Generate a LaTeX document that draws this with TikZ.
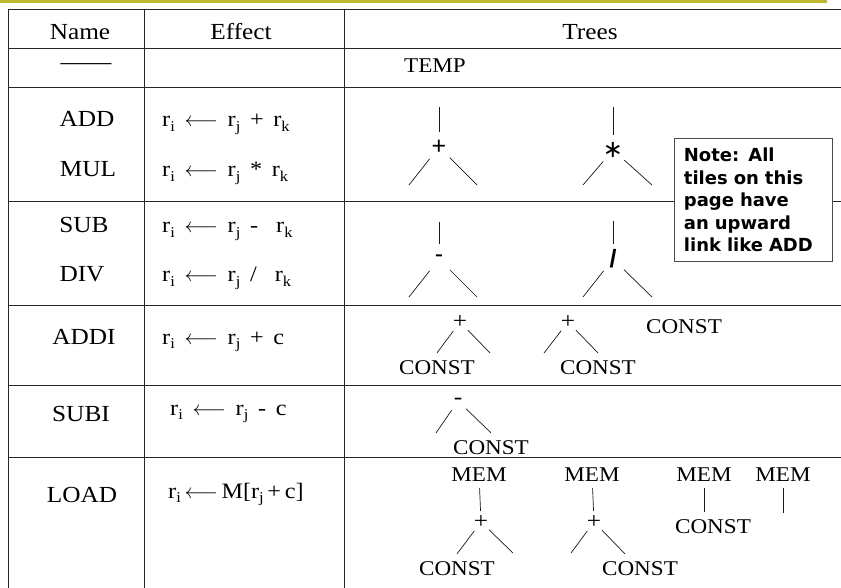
\documentclass[tikz,border=0pt]{standalone}
\usepackage{fontspec}
\usepackage{tikz}
\usepackage{xcolor}
\setmainfont{Liberation Serif}[FakeStretch=1.1]
\newfontfamily\notefont{DejaVu Sans}
\newfontfamily\opfont{Liberation Sans}
\definecolor{slideline}{RGB}{190,186,48}
\newcommand{\reg}[1]{r\raisebox{-4.5pt}{\fontsize{15}{17}\selectfont #1}}
\newcommand{\getsarrow}{\ \,$\longleftarrow$\ \,}
\tikzset{
    grid-line/.style = {draw=black!85, line width=1pt},
    cell-text/.style = {anchor=base, inner sep=0pt, font=\fontsize{23}{27}\selectfont},
    effect-text/.style = {anchor=base west, inner sep=0pt, font=\fontsize{22}{26}\selectfont},
    leaf/.style = {anchor=base, inner xsep=0pt, inner ysep=7pt, font=\fontsize{21}{24}\selectfont},
    big-op/.style = {circle, minimum size=30pt, inner sep=0pt, font=\opfont\fontsize{25}{27}\selectfont},
    small-op/.style = {circle, minimum size=22pt, inner sep=0pt, font=\fontsize{23}{25}\selectfont},
    tree-edge/.style = {draw=black!90, line width=0.7pt},
    note-box/.style = {draw=black!70, fill=white, line width=0.8pt, anchor=north west, minimum height=123pt, text width=139pt, inner xsep=9.5pt, align=left, font=\notefont\bfseries\fontsize{18}{22.5}\selectfont},
}
\begin{document}
\begin{tikzpicture}[x=1pt, y=-1pt]
\useasboundingbox (0,0) rectangle (841,588);
\draw[slideline, line width=3pt] (0,2) -- (827,2);

\draw[grid-line] (8,9.5) -- (841,9.5);
\draw[grid-line] (8,49) -- (841,49);
\draw[grid-line] (8,87.5) -- (841,87.5);
\draw[grid-line] (8,201.5) -- (841,201.5);
\draw[grid-line] (8,305) -- (841,305);
\draw[grid-line] (8,385) -- (841,385);
\draw[grid-line] (8,457) -- (841,457);
\draw[grid-line] (8,9.5) -- (8,588);
\draw[grid-line] (144,9.5) -- (144,588);
\draw[grid-line] (344,9.5) -- (344,588);

\node[cell-text] (name-head) at (80,40) {Name};
\node[cell-text] (effect-head) at (241,40) {Effect};
\node[cell-text] (trees-head) at (590,40) {Trees};

\node[cell-text] (temp-name) at (86,70) {\textemdash\textemdash};
\node[leaf] (temp-tree) at (435,73) {TEMP};

\node[cell-text] (add-name) at (87,127) {ADD};
\node[cell-text] (mul-name) at (88,177) {MUL};
\node[effect-text] (add-effect) at (162,127) {\reg{i}\getsarrow\reg{j}\ \,+\ \,\reg{k}};
\node[effect-text] (mul-effect) at (162,177) {\reg{i}\getsarrow\reg{j}\ \,*\ \,\reg{k}};

\coordinate (add-up) at (439,107);
\node[big-op] (add-op) at (439,147) {+};
\coordinate (add-left) at (409,185);
\coordinate (add-right) at (477,185);
\draw[tree-edge] (add-up) -- (add-op);
\draw[tree-edge] (add-op) -- (add-left);
\draw[tree-edge] (add-op) -- (add-right);

\coordinate (mul-up) at (613,107);
\node[big-op] (mul-op) at (613,150) {\notefont\fontsize{24}{26}\selectfont ∗};
\coordinate (mul-left) at (583,185);
\coordinate (mul-right) at (652,185);
\draw[tree-edge] (mul-up) -- (mul-op);
\draw[tree-edge] (mul-op) -- (mul-left);
\draw[tree-edge] (mul-op) -- (mul-right);

\node[cell-text] (sub-name) at (84,233) {SUB};
\node[cell-text] (div-name) at (82,282) {DIV};
\node[effect-text] (sub-effect) at (162,233) {\reg{i}\getsarrow\reg{j}\ \,-\ \ \ \reg{k}};
\node[effect-text] (div-effect) at (162,282) {\reg{i}\getsarrow\reg{j}\ \,/\ \ \ \reg{k}};

\coordinate (sub-up) at (439,222);
\node[big-op] (sub-op) at (439,259) {-};
\coordinate (sub-left) at (409,297);
\coordinate (sub-right) at (477,297);
\draw[tree-edge] (sub-up) -- (sub-op);
\draw[tree-edge] (sub-op) -- (sub-left);
\draw[tree-edge] (sub-op) -- (sub-right);

\coordinate (div-up) at (613,221);
\node[big-op] (div-op) at (613,259) {\bfseries /};
\coordinate (div-left) at (583,297);
\coordinate (div-right) at (652,297);
\draw[tree-edge] (div-up) -- (div-op);
\draw[tree-edge] (div-op) -- (div-left);
\draw[tree-edge] (div-op) -- (div-right);

\node[cell-text] (addi-name) at (84,344) {ADDI};
\node[effect-text] (addi-effect) at (162,344) {\reg{i}\getsarrow\reg{j}\ \,+\ \,c};

\node[small-op] (addi1-op) at (460,322) {+};
\node[leaf] (addi1-const) at (437,374) {CONST};
\coordinate (addi1-right) at (490,353);
\draw[tree-edge] (addi1-op) -- (addi1-const.north);
\draw[tree-edge] (addi1-op) -- (addi1-right);

\node[small-op] (addi2-op) at (568,322) {+};
\coordinate (addi2-left) at (544,353);
\node[leaf] (addi2-const) at (598,374) {CONST};
\draw[tree-edge] (addi2-op) -- (addi2-left);
\draw[tree-edge] (addi2-op) -- (addi2-const.north);

\node[leaf] (addi3-const) at (684,333) {CONST};

\node[cell-text] (subi-name) at (81,421) {SUBI};
\node[effect-text] (subi-effect) at (170,415) {\reg{i}\getsarrow\reg{j}\ \,-\ \,c};

\node[small-op] (subi-op) at (458,401) {-};
\coordinate (subi-left) at (436,433);
\node[leaf] (subi-const) at (491,454) {CONST};
\draw[tree-edge] (subi-op) -- (subi-left);
\draw[tree-edge] (subi-op) -- (subi-const.north);

\node[cell-text] (load-name) at (82,502) {LOAD};
\node[effect-text] (load-effect) at (168,498) {\reg{i}\,$\longleftarrow$\,M[\reg{j}\,+\,c]};

\node[leaf] (load1-mem) at (479,481) {MEM};
\node[small-op] (load1-op) at (481,522) {+};
\node[leaf] (load1-const) at (457,575) {CONST};
\coordinate (load1-right) at (513,553);
\draw[tree-edge] (load1-mem) -- (load1-op);
\draw[tree-edge] (load1-op) -- (load1-const.north);
\draw[tree-edge] (load1-op) -- (load1-right);

\node[leaf] (load2-mem) at (592,481) {MEM};
\node[small-op] (load2-op) at (594,522) {+};
\node[leaf] (load2-const) at (640,575) {CONST};
\coordinate (load2-left) at (571,553);
\draw[tree-edge] (load2-mem) -- (load2-op);
\draw[tree-edge] (load2-op) -- (load2-left);
\draw[tree-edge] (load2-op) -- ([xshift=-15pt]load2-const.north);

\node[leaf] (load3-mem) at (704,481) {MEM};
\node[leaf] (load3-const) at (713,533) {CONST};
\draw[tree-edge] (load3-mem) -- (load3-mem |- load3-const.north);

\node[leaf] (load4-mem) at (783,481) {MEM};
\coordinate (load4-down) at (783,513);
\draw[tree-edge] (load4-mem) -- (load4-down);

\node[note-box] (note) at (674,138) {Note: All\\tiles on this\\page have\\an upward\\link like ADD};
\end{tikzpicture}
\end{document}
